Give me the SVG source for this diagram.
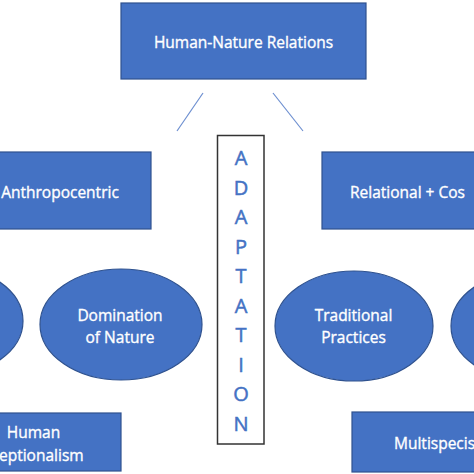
<svg xmlns="http://www.w3.org/2000/svg" width="474" height="474" viewBox="0 0 474 474">
<style>
.box{fill:#4472c4;stroke:#2f528f;stroke-width:1.2}
.t{font-family:"Open Sans","Liberation Sans",sans-serif;font-size:15.5px;fill:#ffffff;stroke:#ffffff;stroke-width:0.35;text-anchor:middle}
.ts{font-family:"Open Sans","Liberation Sans",sans-serif;font-size:15.5px;fill:#ffffff;stroke:#ffffff;stroke-width:0.35;text-anchor:start}
.v{font-family:"Open Sans","Liberation Sans",sans-serif;font-size:20px;fill:#4472c4;stroke:#4472c4;stroke-width:0.5;text-anchor:middle}
.ln{stroke:#6d8fd0;stroke-width:1.2;fill:none}
</style>
<rect width="474" height="474" fill="#ffffff"/>
<g id="connectors">
<line class="ln" x1="203" y1="93" x2="177" y2="131"/>
<line class="ln" x1="273" y1="93" x2="303" y2="131"/>
</g>
<g id="human-nature-relations">
<rect class="box" x="121" y="3" width="245" height="76"/>
<text class="t" x="243.5" y="48">Human-Nature Relations</text>
</g>
<g id="adaptation">
<rect x="217.5" y="135.5" width="46.5" height="308.5" fill="#ffffff" stroke="#333333" stroke-width="1.5"/>
<text class="v" x="241" y="165">A</text>
<text class="v" x="241" y="195">D</text>
<text class="v" x="241" y="224">A</text>
<text class="v" x="241" y="254">P</text>
<text class="v" x="241" y="283">T</text>
<text class="v" x="241" y="313">A</text>
<text class="v" x="241" y="342">T</text>
<text class="v" x="241" y="372">I</text>
<text class="v" x="241" y="401">O</text>
<text class="v" x="241" y="431">N</text>
</g>
<g id="anthropocentric">
<rect class="box" x="-30" y="152" width="181" height="77"/>
<text class="t" x="60" y="197.5">Anthropocentric</text>
</g>
<g id="relational">
<rect class="box" x="322" y="152" width="170" height="77"/>
<text class="ts" x="350" y="197.5">Relational + Cos</text>
</g>
<g id="left-ellipse">
<ellipse class="box" cx="-56" cy="321" rx="79" ry="55"/>
</g>
<g id="domination">
<ellipse class="box" cx="121" cy="324.5" rx="81" ry="55.5"/>
<text class="t" x="120" y="321">Domination</text>
<text class="t" x="120" y="343">of Nature</text>
</g>
<g id="traditional">
<ellipse class="box" cx="354" cy="326" rx="79" ry="55"/>
<text class="t" x="353.5" y="321">Traditional</text>
<text class="t" x="353.5" y="343">Practices</text>
</g>
<g id="right-ellipse">
<ellipse class="box" cx="530" cy="326" rx="79" ry="55"/>
</g>
<g id="human-exceptionalism">
<rect class="box" x="-60" y="413" width="181" height="58"/>
<text class="t" x="33.5" y="438">Human</text>
<text class="ts" x="-1" y="461">eptionalism</text>
</g>
<g id="multispecies">
<rect class="box" x="352" y="412" width="140" height="60"/>
<text class="ts" x="394" y="449">Multispecis</text>
</g>
</svg>
